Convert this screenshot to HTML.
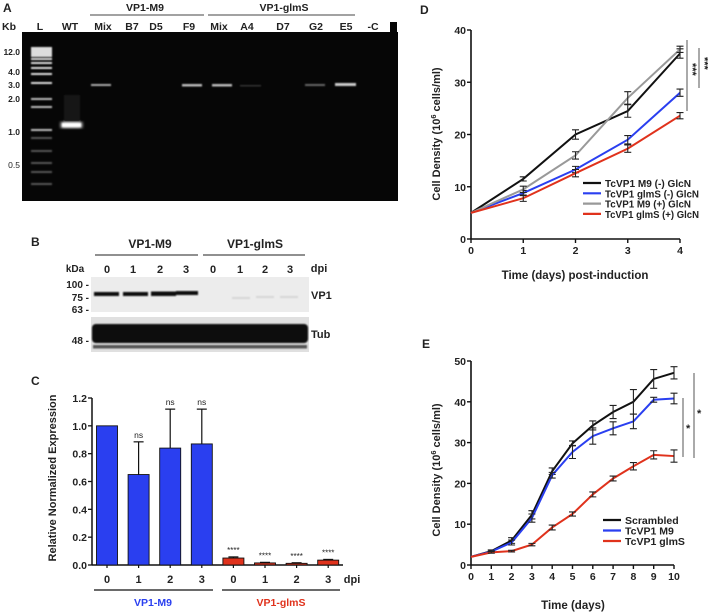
<!DOCTYPE html>
<html><head><meta charset="utf-8"><style>
body{margin:0;background:#fff}
svg{display:block;font-family:"Liberation Sans",sans-serif;font-weight:bold}
text{fill:#222}
</style></head><body>
<svg id="fig" width="708" height="615" viewBox="0 0 708 615" xmlns="http://www.w3.org/2000/svg">
<defs>
<filter id="blur1"><feGaussianBlur stdDeviation="0.8"/></filter>
<filter id="blur2"><feGaussianBlur stdDeviation="1.6"/></filter>
</defs>

<g>
<text x="3" y="12" font-size="12">A</text>
<text x="145" y="11" font-size="10.5" text-anchor="middle">VP1-M9</text>
<line x1="90" y1="15" x2="204" y2="15" stroke="#444" stroke-width="1"/>
<text x="284" y="11" font-size="10.5" text-anchor="middle">VP1-glmS</text>
<line x1="208" y1="15" x2="355" y2="15" stroke="#444" stroke-width="1"/>
<g font-size="10.5" text-anchor="middle">
<text x="9" y="30">Kb</text><text x="40" y="30">L</text><text x="70" y="30">WT</text><text x="103" y="30">Mix</text><text x="132" y="30">B7</text><text x="156" y="30">D5</text><text x="189" y="30">F9</text><text x="219" y="30">Mix</text><text x="247" y="30">A4</text><text x="283" y="30">D7</text><text x="316" y="30">G2</text><text x="346" y="30">E5</text><text x="373" y="30">-C</text>
</g>
<rect x="22" y="32" width="376" height="169" fill="#060606"/>
<g font-size="8.5" text-anchor="end">
<text x="20" y="55">12.0</text><text x="20" y="75">4.0</text><text x="20" y="88">3.0</text><text x="20" y="102">2.0</text><text x="20" y="135">1.0</text><text x="20" y="168" font-weight="normal">0.5</text>
</g>
<g id="ladder" filter="url(#blur1)"></g>
<g filter="url(#blur1)">
<rect x="61" y="122" width="21" height="6" fill="#fff" filter="url(#blur2)"/>
<rect x="62" y="123" width="19" height="4" fill="#fff"/>
<rect x="64" y="95" width="16" height="27" fill="#141414"/>
<rect x="91" y="84" width="20" height="2" fill="#aaa"/>
<rect x="182" y="84" width="20" height="2.5" fill="#bbb"/>
<rect x="212" y="84" width="20" height="2.5" fill="#bbb"/>
<rect x="240" y="85" width="21" height="1.5" fill="#333"/>
<rect x="305" y="84" width="20" height="2" fill="#666"/>
<rect x="335" y="83" width="21" height="3" fill="#ccc"/>
</g>
</g>

<g>
<text x="31" y="246" font-size="12">B</text>
<text x="150" y="248" font-size="12" text-anchor="middle">VP1-M9</text>
<line x1="95" y1="255" x2="198" y2="255" stroke="#222" stroke-width="1"/>
<text x="255" y="248" font-size="12" text-anchor="middle">VP1-glmS</text>
<line x1="203" y1="255" x2="305" y2="255" stroke="#222" stroke-width="1"/>
<g font-size="11" text-anchor="middle">
<text x="75" y="272" font-size="10">kDa</text>
<text x="107" y="273">0</text><text x="133" y="273">1</text><text x="160" y="273">2</text><text x="186" y="273">3</text>
<text x="213" y="273">0</text><text x="240" y="273">1</text><text x="265" y="273">2</text><text x="290" y="273">3</text>
<text x="319" y="272">dpi</text>
</g>
<g font-size="10" text-anchor="end">
<text x="89" y="288">100 -</text><text x="89" y="301">75 -</text><text x="89" y="313">63 -</text><text x="89" y="344">48 -</text>
</g>
<rect x="91" y="277" width="218" height="35" fill="#ececec"/>
<g filter="url(#blur1)">
<rect x="94" y="292" width="25" height="4" fill="#111"/>
<rect x="123" y="292" width="25" height="4" fill="#111"/>
<rect x="151" y="291.5" width="25" height="4.5" fill="#111"/>
<rect x="176" y="291" width="22" height="4" fill="#111"/>
<rect x="232" y="297" width="18" height="2" fill="#d6d6d6"/>
<rect x="256" y="296" width="18" height="2" fill="#d6d6d6"/>
<rect x="280" y="296" width="18" height="2" fill="#d6d6d6"/>
</g>
<text x="311" y="299" font-size="11">VP1</text>
<rect x="91" y="317" width="218" height="35" fill="#e0e0e0"/>
<g filter="url(#blur1)">
<rect x="92" y="324" width="216" height="19" rx="4" fill="#080808"/>
<rect x="93" y="345" width="214" height="3.5" fill="#555"/>
</g>
<text x="311" y="338" font-size="11">Tub</text>
</g>

<g id="panelC">
<text x="31" y="385" font-size="12">C</text>
</g>

<g id="panelD">
<text x="420" y="14" font-size="12">D</text>
<rect x="390" y="22" width="7" height="179" fill="#060606"/>
</g>

<g id="panelE">
<text x="422" y="348" font-size="12">E</text>
</g>
</svg>
<script>
const NS="http://www.w3.org/2000/svg";
function mk(parent,tag,attrs,txt){const e=document.createElementNS(NS,tag);for(const k in attrs)e.setAttribute(k,attrs[k]);if(txt!==undefined)e.textContent=txt;parent.appendChild(e);return e;}

const ladderY=[48,50,52,54,56,59,63,68,74,83,99,107,130,138,151,163,172,184];
const lad=document.getElementById('ladder');
ladderY.forEach((y,i)=>{const r=mk(lad,'rect',{x:31,y:y-1,width:21,height:2,fill:i<10?'#ddd':(i<13?'#bbb':'#555')});

});

// ===== Panel C data =====
const cCats=['0','1','2','3','0','1','2','3'];
const cValues=[1.0,0.65,0.84,0.87,0.05,0.015,0.012,0.035];
const cErrors=[0,0.235,0.28,0.25,0.008,0.004,0.004,0.005];
const cSig=['','ns','ns','ns','****','****','****','****'];
const cTicks=[0,0.2,0.4,0.6,0.8,1.0,1.2];
(function(){
const g=document.getElementById('panelC');
const y0=565,yTop=398,xl=92,xr=343;
const ys=v=>y0-(v/1.2)*(y0-yTop);
const xs=i=>107+i*31.6;
mk(g,'line',{x1:xl,y1:yTop,x2:xl,y2:y0,stroke:'#111','stroke-width':1.5});
mk(g,'line',{x1:xl,y1:y0,x2:xr,y2:y0,stroke:'#111','stroke-width':1.5});
cTicks.forEach(t=>{const y=ys(t);mk(g,'line',{x1:xl-4,y1:y,x2:xl,y2:y,stroke:'#111','stroke-width':1.3});
const tx=mk(g,'text',{x:xl-5,y:y+4,'font-size':10.5,'text-anchor':'end'},t.toFixed(1));

});
const yt=mk(g,'text',{x:0,y:0,'font-size':11,'text-anchor':'middle',transform:'translate(56,478) rotate(-90)'},'Relative Normalized Expression');


cValues.forEach((v,i)=>{const x=xs(i),red=i>=4;
const top=ys(v+cErrors[i]);
if(cErrors[i]>0){mk(g,'line',{x1:x,y1:ys(v),x2:x,y2:top,stroke:'#111','stroke-width':1.2});
mk(g,'line',{x1:x-5,y1:top,x2:x+5,y2:top,stroke:'#111','stroke-width':1.2});}
const b=mk(g,'rect',{x:x-10.5,y:ys(v),width:21,height:y0-ys(v),fill:red?'#e0321c':'#2a3ff0',stroke:'#111','stroke-width':0.9});


if(cSig[i]){const s=mk(g,'text',{x:x,y:top-4,'font-size':red?8:8.5,'font-weight':'normal','text-anchor':'middle'},cSig[i]);

}
const tl=mk(g,'text',{x:x,y:583,'font-size':11,'text-anchor':'middle'},cCats[i]);


mk(g,'line',{x1:x,y1:y0,x2:x,y2:y0+3,stroke:'#111','stroke-width':1.2});});
mk(g,'text',{x:352,y:583,'font-size':11,'text-anchor':'middle'},'dpi');
mk(g,'line',{x1:94,y1:590,x2:213,y2:590,stroke:'#111','stroke-width':1.2});
mk(g,'line',{x1:222,y1:590,x2:340,y2:590,stroke:'#111','stroke-width':1.2});
mk(g,'text',{x:153,y:606,'font-size':10.5,'text-anchor':'middle',style:'fill:#2a3ff0'},'VP1-M9');
mk(g,'text',{x:281,y:606,'font-size':10.5,'text-anchor':'middle',style:'fill:#e0321c'},'VP1-glmS');
})();

function lineChart(g,cfg){
const xs=d=>cfg.x0+(d-cfg.xmin)/(cfg.xmax-cfg.xmin)*(cfg.x1-cfg.x0);
const ys=v=>cfg.y0-(v/cfg.ymax)*(cfg.y0-cfg.y1);
mk(g,'line',{x1:cfg.x0,y1:cfg.y1,x2:cfg.x0,y2:cfg.y0,stroke:'#111','stroke-width':1.6});
mk(g,'line',{x1:cfg.x0,y1:cfg.y0,x2:cfg.x1,y2:cfg.y0,stroke:'#111','stroke-width':1.6});
cfg.yTicks.forEach(t=>{const y=ys(t);mk(g,'line',{x1:cfg.x0-4,y1:y,x2:cfg.x0,y2:y,stroke:'#111','stroke-width':1.4});
const tx=mk(g,'text',{x:cfg.x0-5,y:y+4,'font-size':10.5,'text-anchor':'end'},t);

});
cfg.xTicks.forEach(t=>{const x=xs(t);mk(g,'line',{x1:x,y1:cfg.y0,x2:x,y2:cfg.y0+4,stroke:'#111','stroke-width':1.4});
const tx=mk(g,'text',{x:x,y:cfg.y0+15,'font-size':10.5,'text-anchor':'middle'},t);

});
const yt=mk(g,'text',{x:0,y:0,'font-size':11,'text-anchor':'middle',transform:`translate(${cfg.ytx},${cfg.yty}) rotate(-90)`});
yt.innerHTML='Cell Density (10<tspan dy="-4" font-size="7.5">6</tspan><tspan dy="4"> cells/ml)</tspan>';


const xt=mk(g,'text',{x:cfg.xtx,y:cfg.xty,'font-size':11.5,'text-anchor':'middle'},cfg.xTitle);


cfg.series.forEach(s=>{
const pts=s.vals.map((v,i)=>xs(cfg.xTicks[i])+','+ys(v)).join(' ');
const pl=mk(g,'polyline',{points:pts,fill:'none',stroke:s.color,'stroke-width':2});


s.vals.forEach((v,i)=>{if(!s.err[i])return;const x=xs(cfg.xTicks[i]);const a=ys(v+s.err[i]),b=ys(v-s.err[i]);
const eb=mk(g,'path',{d:`M${x},${a}V${b}M${x-3.5},${a}H${x+3.5}M${x-3.5},${b}H${x+3.5}`,stroke:'#222','stroke-width':1.1,fill:'none'});

});
});
cfg.series.forEach((s,i)=>{const y=cfg.legY+i*cfg.legDy;
mk(g,'line',{x1:cfg.legX,y1:y,x2:cfg.legX+18,y2:y,stroke:s.color,'stroke-width':2.2});
const at={x:cfg.legX+22,y:y+4,'font-size':10.5};
if(cfg.legLen){at.textLength=cfg.legLen[i];at.lengthAdjust='spacingAndGlyphs';}
const t=mk(g,'text',at,s.label);

});
}

// ===== Panel D data =====
const dDays=[0,1,2,3,4];
const dBlackM9Minus=[5,11.5,20,24.5,35.5];
const dBlueGlmsMinus=[5,8.8,13.3,19,28];
const dGrayM9Plus=[5,9.5,16,27,36.3];
const dRedGlmsPlus=[5,7.8,12.6,17.3,23.6];
const dBlackErr=[0,0.4,0.9,1.2,0.9];
const dBlueErr=[0,0.5,0.6,0.8,0.7];
const dGrayErr=[0,0.6,0.7,1.2,0.6];
const dRedErr=[0,0.6,0.7,0.7,0.6];
const dYTicks=[0,10,20,30,40];
lineChart(document.getElementById('panelD'),{x0:471,x1:680,xmin:0,xmax:4,y0:239,y1:30,ymax:40,
xTicks:dDays,yTicks:dYTicks,ytx:440,yty:134,xtx:575,xty:279,xTitle:'Time (days) post-induction',
legX:583,legY:183,legDy:10.3,legLen:[86,94,86,94],
series:[{name:'m9-minus',label:'TcVP1 M9 (-) GlcN',color:'#111',vals:dBlackM9Minus,err:dBlackErr},
{name:'glms-minus',label:'TcVP1 glmS (-) GlcN',color:'#2a3ff0',vals:dBlueGlmsMinus,err:dBlueErr},
{name:'m9-plus',label:'TcVP1 M9 (+) GlcN',color:'#999',vals:dGrayM9Plus,err:dGrayErr},
{name:'glms-plus',label:'TcVP1 glmS (+) GlcN',color:'#e0321c',vals:dRedGlmsPlus,err:dRedErr}]});
(function(){const g=document.getElementById('panelD');
mk(g,'line',{x1:687,y1:40,x2:687,y2:111,stroke:'#555','stroke-width':1});
mk(g,'line',{x1:699,y1:48,x2:699,y2:88,stroke:'#555','stroke-width':1});
mk(g,'text',{x:0,y:0,'font-size':11,transform:'translate(689,63) rotate(90)'},'***');
mk(g,'text',{x:0,y:0,'font-size':11,transform:'translate(701,57) rotate(90)'},'***');
})();

// ===== Panel E data =====
const eDays=[0,1,2,3,4,5,6,7,8,9,10];
const eScrambled=[2,3.4,6,12.3,23,29.8,34.2,37.5,40,45.6,47.1];
const eM9=[2,3.3,5.5,11.5,22,27.7,31.6,33.5,35.2,40.5,40.8];
const eGlmS=[2,3.1,3.4,5,9.2,12.5,17.3,21.2,24.2,27,26.7];
const eScrambledErr=[0,0.3,0.7,1,0.8,0.6,1.1,1.6,3,2.3,1.5];
const eM9Err=[0,0.3,0.6,1,0.7,1.6,2,1.6,1.8,0.6,1.3];
const eGlmSErr=[0,0.2,0.2,0.3,0.6,0.5,0.6,0.6,0.9,1,1.5];
const eYTicks=[0,10,20,30,40,50];
lineChart(document.getElementById('panelE'),{x0:471,x1:674,xmin:0,xmax:10,y0:565,y1:361,ymax:50,
xTicks:eDays,yTicks:eYTicks,ytx:440,yty:470,xtx:573,xty:609,xTitle:'Time (days)',
legX:603,legY:520,legDy:10.5,
series:[{name:'scrambled',label:'Scrambled',color:'#111',vals:eScrambled,err:eScrambledErr},
{name:'tcvp1-m9',label:'TcVP1 M9',color:'#2a3ff0',vals:eM9,err:eM9Err},
{name:'tcvp1-glms',label:'TcVP1 glmS',color:'#e0321c',vals:eGlmS,err:eGlmSErr}]});
(function(){const g=document.getElementById('panelE');
mk(g,'line',{x1:683,y1:398,x2:683,y2:457,stroke:'#555','stroke-width':1});
mk(g,'line',{x1:694,y1:373,x2:694,y2:458,stroke:'#555','stroke-width':1});
mk(g,'text',{x:686,y:432,'font-size':11},'*');
mk(g,'text',{x:697,y:417,'font-size':11},'*');
})();
</script>
</body></html>
